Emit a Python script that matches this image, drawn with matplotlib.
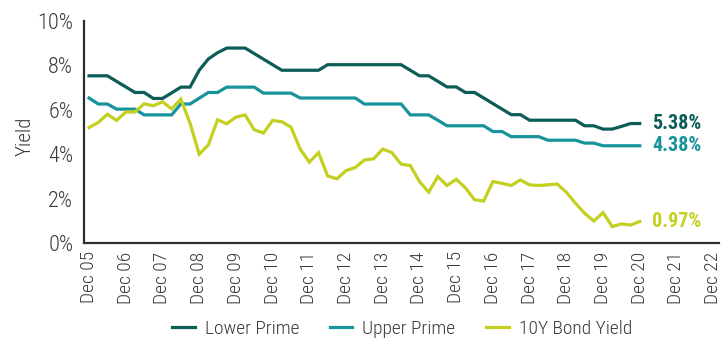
import matplotlib
matplotlib.use("Agg")
import matplotlib.pyplot as plt
from matplotlib import font_manager as fm

# Quarterly observations, Dec 2005 .. Dec 2020
lower_prime = [
    7.53, 7.53, 7.53, 7.28, 7.03, 6.78, 6.78, 6.51, 6.51, 6.76,
    7.02, 7.02, 7.78, 8.29, 8.57, 8.78, 8.78, 8.78, 8.53, 8.28,
    8.03, 7.78, 7.78, 7.78, 7.78, 7.78, 8.03, 8.03, 8.03, 8.03,
    8.03, 8.03, 8.03, 8.03, 8.03, 7.78, 7.53, 7.53, 7.28, 7.03,
    7.03, 6.78, 6.78, 6.53, 6.28, 6.03, 5.78, 5.78, 5.53, 5.53,
    5.53, 5.53, 5.53, 5.53, 5.28, 5.28, 5.13, 5.13, 5.25, 5.38,
    5.38,
]
upper_prime = [
    6.53, 6.26, 6.26, 6.03, 6.03, 6.03, 5.77, 5.77, 5.77, 5.77,
    6.26, 6.26, 6.52, 6.78, 6.78, 7.02, 7.02, 7.02, 7.02, 6.75,
    6.75, 6.75, 6.75, 6.53, 6.53, 6.53, 6.53, 6.53, 6.53, 6.53,
    6.26, 6.26, 6.26, 6.26, 6.26, 5.77, 5.77, 5.77, 5.53, 5.28,
    5.28, 5.28, 5.28, 5.28, 5.02, 5.02, 4.79, 4.79, 4.79, 4.79,
    4.63, 4.63, 4.63, 4.63, 4.50, 4.50, 4.38, 4.38, 4.38, 4.38,
    4.38,
]
bond_yield = [
    5.20, 5.43, 5.80, 5.52, 5.90, 5.90, 6.27, 6.18, 6.36, 6.04,
    6.48, 5.40, 4.00, 4.42, 5.55, 5.37, 5.67, 5.77, 5.10, 4.95,
    5.52, 5.46, 5.22, 4.23, 3.64, 4.07, 3.02, 2.89, 3.26, 3.40,
    3.74, 3.79, 4.23, 4.07, 3.55, 3.49, 2.77, 2.29, 2.99, 2.59,
    2.87, 2.49, 1.95, 1.89, 2.77, 2.69, 2.59, 2.84, 2.62, 2.59,
    2.62, 2.66, 2.29, 1.79, 1.34, 0.99, 1.37, 0.74, 0.86, 0.81,
    0.97,
]
series_names = ["Lower Prime", "Upper Prime", "10Y Bond Yield"]
series_colors = ["#0b5d56", "#17939c", "#c4cf1f"]
end_labels = ["5.38%", "4.38%", "0.97%"]
tick_years = [f"Dec {y:02d}" for y in range(5, 23)]
y_ticks = [0, 2, 4, 6, 8, 10]


def pick_condensed():
    entries = fm.fontManager.ttflist
    names = {e.name for e in entries}
    for cand in ["Roboto Condensed", "Noto Sans Condensed", "Open Sans Condensed",
                 "Liberation Sans Narrow", "Arial Narrow"]:
        if cand in names:
            return cand, "normal"
    for e in entries:
        if "Condensed" in e.name or "Narrow" in e.name:
            return e.name, "normal"
    for e in entries:
        st = e.stretch
        if (isinstance(st, str) and "condensed" in st) or (isinstance(st, int) and st < 500):
            return e.name, "condensed"
    return "DejaVu Sans", "normal"


family, stretch = pick_condensed()
plt.rcParams["font.family"] = [family, "DejaVu Sans"]
plt.rcParams["font.stretch"] = stretch

text_gray = "#3a3a3a"

fig = plt.figure(figsize=(7.22, 3.38), dpi=100)
ax = fig.add_axes([0.117, 0.281, 0.879, 0.657])

x = list(range(len(lower_prime)))
for vals, name, col in zip([lower_prime, upper_prime, bond_yield], series_names, series_colors):
    ax.plot(x, vals, color=col, lw=2.3, label=name, solid_joinstyle="miter")

for vals, lab, col in zip([lower_prime, upper_prime, bond_yield], end_labels, series_colors):
    ax.annotate(lab, xy=(x[-1], vals[-1]), xytext=(9, 0), textcoords="offset points",
                color=col, fontsize=14.5, fontweight="bold", va="center", ha="left")

ax.set_xlim(-0.5, 68.65)
ax.set_ylim(0, 10)
ax.set_xticks(range(0, 4 * len(tick_years), 4))
ax.set_xticklabels(tick_years, rotation=90, fontsize=14, color=text_gray, fontweight="light")
ax.set_yticks(y_ticks)
ax.set_yticklabels([f"{v}%" for v in y_ticks], fontsize=16, color=text_gray, fontweight="light")
ax.tick_params(axis="both", length=0)
ax.tick_params(axis="x", pad=6)
ax.tick_params(axis="y", pad=8)
ax.set_ylabel("Yield", fontsize=15, color=text_gray, fontweight="light")
ax.yaxis.set_label_coords(-0.078, 0.48)

for side in ["top", "right"]:
    ax.spines[side].set_visible(False)
for side in ["left", "bottom"]:
    ax.spines[side].set_color("#2e2e2e")
    ax.spines[side].set_linewidth(1.6)

leg = fig.legend(loc="center", bbox_to_anchor=(0.557, 0.028), ncol=3, frameon=False,
                 fontsize=14, handlelength=1.15, columnspacing=1.6, handletextpad=0.5)
for t in leg.get_texts():
    t.set_color(text_gray)
    t.set_fontweight("light")

fig.savefig("out.png", dpi=100)
